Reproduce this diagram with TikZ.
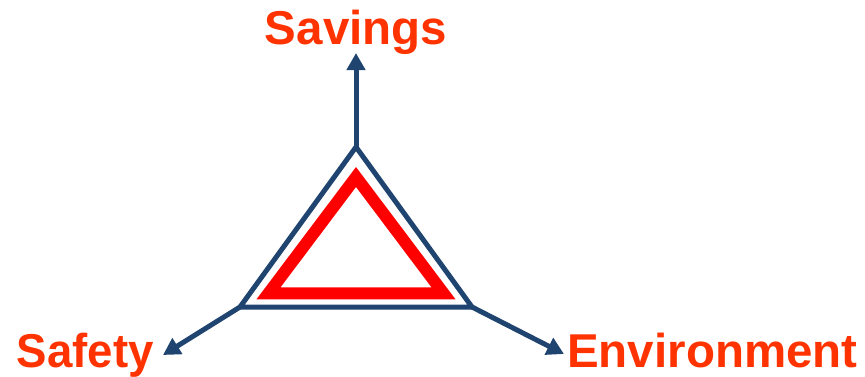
\documentclass[tikz,border=0pt]{standalone}
\usepackage{fontspec}
\setmainfont{Liberation Sans}
\usetikzlibrary{arrows.meta}
\definecolor{navy}{HTML}{1F4470}
\definecolor{labelred}{HTML}{FF3300}
\definecolor{warnred}{HTML}{FF0000}
\begin{document}
\begin{tikzpicture}[x=1pt,y=-1pt,
  frame/.style={draw=navy,line width=5pt,line join=miter},
  warn/.style={draw=warnred,line width=12pt,line join=miter},
  axis/.style={draw=navy,line width=5pt,-{Triangle[width=18pt,length=17pt]}},
  goal/.style={text=labelred,font=\bfseries\fontsize{47.5}{52}\selectfont,inner sep=0pt}]
\useasboundingbox (0,0) rectangle (865,376);
% outer frame triangle
\coordinate (top) at (356,147);
\coordinate (bl) at (240,307);
\coordinate (br) at (472,307);
\draw[frame] (top) -- (bl) -- (br) -- cycle;
% inner warning triangle
\draw[warn] (356,177) -- (268.5,293.3) -- (443.5,293.3) -- cycle;
% arrow ends
\coordinate (upend) at (356,53);
\coordinate (leftend) at (163,355);
\coordinate (rightend) at (564,354);
\draw[axis] (top) -- (upend);
\draw[axis] (bl) -- (leftend);
\draw[axis] (br) -- (rightend);
% labels
\node[goal,anchor=base] (savings) at (356,44) {Savings};
\node[goal,anchor=base east,xscale=0.96] (safety) at (154,367) {Safety};
\node[goal,anchor=base west] (environment) at (567,367) {Environment};
\end{tikzpicture}
\end{document}
